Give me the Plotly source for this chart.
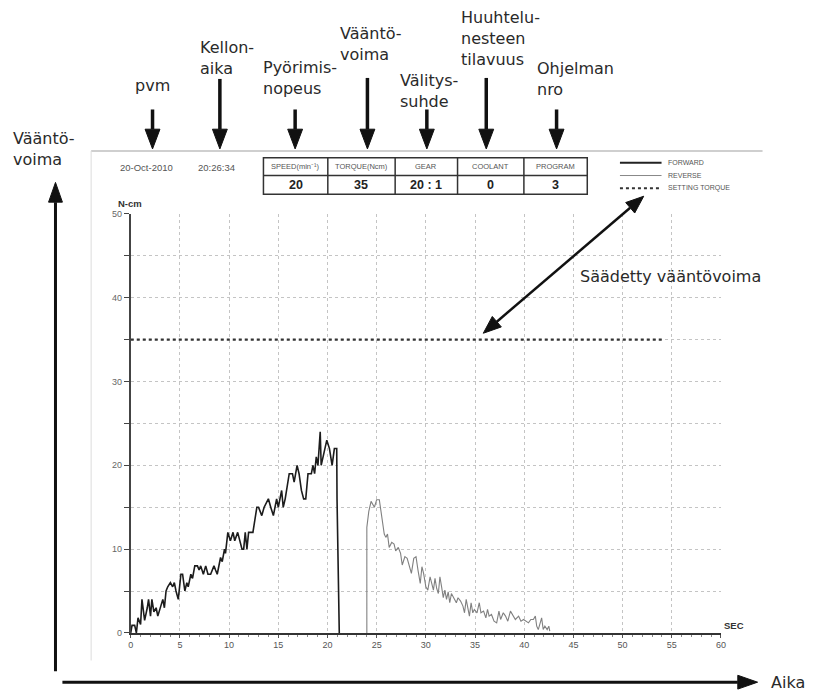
import math
import plotly.graph_objects as go

W, H = 824, 700

# ---------------- data ----------------
fwd_t = [0, 0.13, 0.4, 0.57, 0.74, 1.0, 1.14, 1.41, 1.68, 1.81, 2.01, 2.15, 2.35, 2.58, 2.75, 3.02,
         3.26, 3.42, 3.59, 3.76, 4.03, 4.26, 4.43, 4.6, 4.83, 5.1, 5.27, 5.5, 5.7, 5.84, 6.11, 6.28,
         6.51, 6.78, 6.95, 7.11, 7.38, 7.62, 7.85, 8.12, 8.46, 8.62, 8.79, 9.13, 9.3, 9.53, 9.63,
         9.87, 10.13, 10.4, 10.57, 10.87, 11.07, 11.31, 11.48, 11.64, 11.81, 11.98, 12.42, 12.82,
         12.99, 13.32, 13.56, 13.99, 14.23, 14.5, 14.83, 15.0, 15.34, 15.5, 15.7, 16.11, 16.44,
         16.61, 16.91, 17.11, 17.35, 17.58, 17.79, 18.02, 18.36, 18.52, 18.69, 18.86, 19.03, 19.26,
         19.36, 19.53, 19.7, 19.93, 20.2, 20.47, 20.7, 20.94, 20.97, 21.2]
fwd_v = [0, 0.9, 0.9, 0, 1.8, 1.0, 4.0, 1.5, 3.0, 4.0, 2.0, 4.0, 2.5, 3.0, 2.0, 3.0,
         4.0, 3.0, 5.0, 5.5, 6.0, 5.5, 6.0, 5.0, 4.0, 7.0, 7.0, 5.0, 6.0, 5.5, 7.0, 6.5,
         8.0, 8.0, 7.5, 8.0, 7.0, 8.0, 7.0, 7.0, 8.0, 7.5, 7.0, 9.0, 8.5, 10.0, 9.5,
         12.0, 11.0, 12.0, 11.0, 12.0, 11.0, 10.0, 10.0, 12.0, 10.0, 12.0, 12.0, 15.0,
         15.0, 14.0, 15.0, 16.0, 15.0, 14.0, 16.0, 15.0, 17.0, 15.0, 16.0, 19.0, 19.0,
         18.0, 20.0, 19.0, 17.0, 16.0, 16.0, 19.0, 19.0, 20.0, 19.0, 21.0, 20.0, 24.0,
         20.0, 21.0, 22.0, 23.0, 22.0, 20.0, 22.0, 22.0, 16.0, 0.0]

rev_t = [24.0, 24.0, 24.2, 24.43, 24.77, 25.0, 25.27, 25.53, 25.77, 25.93, 26.1, 26.27, 26.53,
         26.77, 26.93, 27.2, 27.43, 27.6, 27.87, 28.1, 28.33, 28.53, 28.77, 29.0, 29.2, 29.43,
         29.6, 29.77, 30.0, 30.2, 30.43, 30.6, 30.77, 30.93, 31.1, 31.27, 31.43, 31.6, 31.77,
         31.93, 32.1, 32.27, 32.43, 32.6, 32.87, 33.1, 33.27, 33.53, 33.77, 33.93, 34.1, 34.27,
         34.43, 34.6, 34.77, 34.93, 35.2, 35.43, 35.6, 35.87, 36.1, 36.27, 36.43, 36.67, 36.93,
         37.2, 37.43, 37.6, 37.87, 38.1, 38.33, 38.6, 38.87, 39.1, 39.43, 39.67, 39.93, 40.2,
         40.43, 40.67, 40.93, 41.13, 41.27, 41.43, 41.6, 41.77, 41.93, 42.1, 42.33, 42.5, 42.6]
rev_v = [0, 12.6, 14.5, 15.7, 15.0, 15.9, 15.9, 13.4, 11.8, 11.4, 11.8, 10.2, 10.8,
         10.6, 9.8, 10.2, 9.5, 8.1, 9.1, 8.9, 7.9, 7.1, 8.9, 9.1, 7.5, 5.9,
         7.9, 7.1, 5.5, 5.1, 6.7, 5.9, 5.1, 6.5, 5.3, 4.7, 6.7, 5.5, 4.2,
         5.1, 4.0, 4.9, 3.6, 4.7, 4.0, 3.6, 4.2, 3.8, 3.2, 2.4, 4.0, 2.8,
         2.0, 3.6, 2.4, 2.8, 2.4, 3.6, 2.4, 2.6, 1.8, 2.8, 2.0, 2.2, 1.4,
         1.2, 2.6, 1.6, 2.4, 2.0, 1.4, 2.6, 2.0, 1.6, 2.0, 1.4, 1.6, 1.4,
         1.2, 1.6, 1.6, 2.0, 0.8, 0.4, 1.2, 1.8, 0.4, 0.8, 0.4, 0.8, 0.2]

setting_torque = 35
setting_t = [0, 54]

x_ticks = list(range(0, 61, 5))
y_ticks = list(range(0, 51, 5))
y_ticklabels = [str(v) if v % 10 == 0 else "" for v in y_ticks]

table_headers = ["SPEED(min⁻¹)", "TORQUE(Ncm)", "GEAR", "COOLANT", "PROGRAM"]
table_values = ["20", "35", "20 : 1", "0", "3"]
date_text = "20-Oct-2010"
time_text = "20:26:34"
legend_names = ["FORWARD", "REVERSE", "SETTING TORQUE"]

top_labels = ["pvm", "Kellon-<br>aika", "Pyörimis-<br>nopeus", "Vääntö-<br>voima",
              "Välitys-<br>suhde", "Huuhtelu-<br>nesteen<br>tilavuus", "Ohjelman<br>nro"]

# ---------------- helpers (pixel -> paper) ----------------
def px(x):
    return x / W


def py(y):
    return 1 - y / H


shapes = []
annots = []


def line(x0, y0, x1, y1, color="#222", width=1, dash="solid"):
    shapes.append(dict(type="line", xref="paper", yref="paper", x0=px(x0), y0=py(y0),
                       x1=px(x1), y1=py(y1), line=dict(color=color, width=width, dash=dash)))


def tri(p1, p2, p3, color="#111"):
    path = "M {} {} L {} {} L {} {} Z".format(px(p1[0]), py(p1[1]), px(p2[0]), py(p2[1]),
                                             px(p3[0]), py(p3[1]))
    shapes.append(dict(type="path", xref="paper", yref="paper", path=path,
                       fillcolor=color, line=dict(color=color, width=1)))


def head(tail, tip, hl, hw, color):
    dx, dy = tip[0] - tail[0], tip[1] - tail[1]
    L = math.hypot(dx, dy)
    ux, uy = dx / L, dy / L
    bx, by = tip[0] - ux * hl, tip[1] - uy * hl
    nx, ny = -uy, ux
    tri(tip, (bx + nx * hw / 2, by + ny * hw / 2), (bx - nx * hw / 2, by - ny * hw / 2), color)
    return bx, by


def arrow(tail, tip, width=3.5, hl=20, hw=15, color="#111"):
    bx, by = head(tail, tip, hl, hw, color)
    line(tail[0], tail[1], bx, by, color=color, width=width)


def text(x, y, s, size=16, color="#2a2a2a", xanchor="left", yanchor="middle",
         family="DejaVu Sans", align="left"):
    annots.append(dict(x=px(x), y=py(y), xref="paper", yref="paper", text=s, showarrow=False,
                       xanchor=xanchor, yanchor=yanchor, align=align,
                       font=dict(size=size, color=color, family=family)))


# ---------------- figure ----------------
fig = go.Figure()
fig.add_trace(go.Scatter(x=fwd_t, y=fwd_v, mode="lines", name=legend_names[0],
                         line=dict(color="#1c1c1c", width=1.6), showlegend=False))
fig.add_trace(go.Scatter(x=rev_t, y=rev_v, mode="lines", name=legend_names[1],
                         line=dict(color="#808080", width=1.1), showlegend=False))
fig.add_trace(go.Scatter(x=setting_t, y=[setting_torque] * len(setting_t), mode="lines",
                         name=legend_names[2],
                         line=dict(color="#333", width=2.2, dash="dot"), showlegend=False))

# printout border
line(89, 148, 767, 148, color="#cfcfcf", width=2)
line(89, 148, 89, 665, color="#dddddd", width=1)

# table
shapes.append(dict(type="rect", xref="paper", yref="paper", x0=px(263), y0=py(155),
                   x1=px(590), y1=py(192), line=dict(color="#333", width=1.5)))
line(263, 173, 590, 173, color="#333", width=1.5)
cols = [263, 328, 396, 459, 526, 590]
for cx in cols[1:-1]:
    line(cx, 155, cx, 192, color="#333", width=1.5)
for i in range(5):
    cxm = (cols[i] + cols[i + 1]) / 2
    text(cxm, 164, table_headers[i], size=7.5, color="#555", xanchor="center",
         family="Liberation Sans")
    text(cxm, 183, "<b>" + table_values[i] + "</b>", size=12.5, color="#222", xanchor="center",
         family="Liberation Sans")

text(145, 165, date_text, size=9.5, color="#555", xanchor="center", family="Liberation Sans")
text(216, 165, time_text, size=9.5, color="#555", xanchor="center", family="Liberation Sans")

# legend
line(623, 160, 665, 160, color="#222", width=2)
line(623, 173, 665, 173, color="#888", width=1)
line(623, 186, 665, 186, color="#333", width=2, dash="dot")
for yy, nm in zip([160, 173, 186], legend_names):
    text(670, yy, nm, size=7, color="#555", family="Liberation Sans")

# axis extra labels
text(128, 201, "<b>N-cm</b>", size=9.5, color="#333", xanchor="center", family="Liberation Sans")
text(738, 629, "<b>SEC</b>", size=9.5, color="#333", xanchor="center", family="Liberation Sans")

# top annotation labels and arrows
lab_pos = [(131, 82), (197, 54), (261, 74), (338, 40), (399, 87), (460, 34), (537, 75)]
arr_pos = [(151, 106), (219, 75), (295, 106), (368, 74), (428, 106), (488, 74), (559, 106)]
for s, (lx, ly) in zip(top_labels, lab_pos):
    text(lx, ly, s)
for ax_, ay_ in arr_pos:
    arrow((ax_, ay_), (ax_, 146), width=3.5, hl=20, hw=15)

# left label + big axes arrows
text(8, 146, "Vääntö-<br>voima")
arrow((53, 676), (53, 180), width=3, hl=20, hw=14)
arrow((60, 687), (762, 687), width=3, hl=20, hw=14)
text(774, 687, "Aika")

# setting torque double arrow + label
p1, p2 = (485, 333), (647, 194)
b1 = head(p2, p1, 18, 14, "#111")
b2 = head(p1, p2, 18, 14, "#111")
line(b1[0], b1[1], b2[0], b2[1], color="#111", width=2.5)
text(581, 275, "Säädetty vääntövoima")

fig.update_layout(
    width=W, height=H,
    margin=dict(l=0, r=0, t=0, b=0),
    paper_bgcolor="white", plot_bgcolor="white",
    shapes=shapes, annotations=annots,
    showlegend=False,
    xaxis=dict(domain=[129 / W, 725 / W], range=[0, 60], tickvals=x_ticks,
               showgrid=True, gridcolor="#c4c4c4", griddash="dot", gridwidth=1,
               showline=True, linecolor="#333", linewidth=1.5, zeroline=False,
               ticks="outside", ticklen=3, tickcolor="#555",
               tickfont=dict(size=9, color="#555", family="Liberation Sans Narrow, Liberation Sans"),
               minor=dict(dtick=1, ticks="outside", ticklen=2, tickcolor="#888", showgrid=False),
               fixedrange=True),
    yaxis=dict(domain=[1 - 637 / H, 1 - 212 / H], range=[0, 50], tickvals=y_ticks,
               ticktext=y_ticklabels,
               showgrid=True, gridcolor="#c4c4c4", griddash="dot", gridwidth=1,
               showline=True, linecolor="#444", linewidth=2, zeroline=False,
               ticks="outside", ticklen=5, tickcolor="#444",
               tickfont=dict(size=9, color="#666", family="Liberation Sans"),
               fixedrange=True),
)

fig.write_html("out.html", config={"displayModeBar": False},
               post_script="document.body.style.margin='0';document.body.style.overflow='hidden';")
